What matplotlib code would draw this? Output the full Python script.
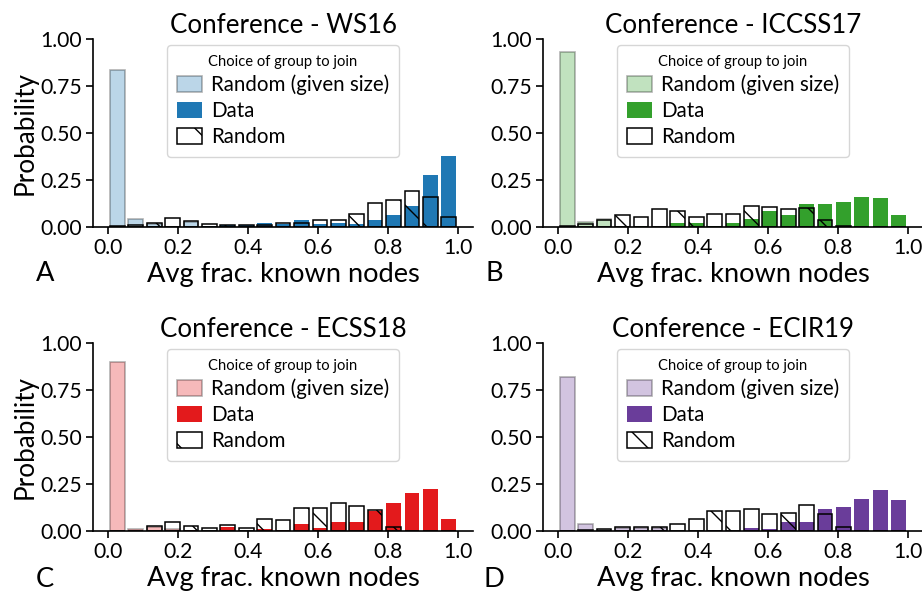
import numpy as np
import matplotlib.pyplot as plt

plt.rcParams['font.family'] = ['Lato', 'DejaVu Sans']
plt.rcParams['hatch.linewidth'] = 0.5

# 19 bins between 0 and 1
edges = np.linspace(0, 1, 20)

conferences = ['WS16', 'ICCSS17', 'ECSS18', 'ECIR19']
colors = ['#1f78b4', '#33a02c', '#e31a1c', '#6a3d9a']
letters = ['A', 'B', 'C', 'D']

rand_size_ws16 = [0.835, 0.044, 0.015, 0, 0.025, 0, 0, 0, 0, 0, 0, 0, 0, 0, 0, 0, 0, 0, 0]
data_ws16 = [0, 0, 0.005, 0, 0, 0.005, 0.012, 0.010, 0.020, 0.018, 0.035, 0.014, 0.021,
             0.014, 0.035, 0.062, 0.110, 0.275, 0.376]
rand_ws16 = [0.003, 0.008, 0.020, 0.050, 0.030, 0.014, 0.012, 0.012, 0.009, 0.021, 0.021,
             0.035, 0.035, 0.071, 0.126, 0.144, 0.190, 0.160, 0.055]

rand_size_iccss17 = [0.93, 0.028, 0.040, 0, 0, 0, 0, 0, 0, 0, 0, 0, 0, 0, 0, 0, 0, 0, 0]
data_iccss17 = [0, 0, 0, 0, 0.007, 0, 0.020, 0.020, 0.007, 0.020, 0.041, 0.085, 0.062,
                0.120, 0.120, 0.131, 0.158, 0.152, 0.062]
rand_iccss17 = [0.005, 0.017, 0.038, 0.064, 0.053, 0.095, 0.085, 0.055, 0.066, 0.071, 0.112,
                0.108, 0.096, 0.101, 0.039, 0.005, 0, 0, 0]

rand_size_ecss18 = [0.90, 0.012, 0.020, 0.010, 0, 0, 0, 0, 0, 0, 0, 0, 0, 0, 0, 0, 0, 0, 0]
data_ecss18 = [0, 0, 0, 0, 0.008, 0, 0.021, 0, 0.009, 0.004, 0.039, 0.018, 0.046,
               0.046, 0.106, 0.151, 0.204, 0.225, 0.066]
rand_ecss18 = [0, 0, 0.025, 0.050, 0.026, 0.018, 0.033, 0.018, 0.066, 0.060, 0.124,
               0.124, 0.147, 0.131, 0.110, 0.023, 0, 0, 0]

rand_size_ecir19 = [0.82, 0.039, 0.005, 0.018, 0.018, 0.018, 0, 0, 0, 0, 0, 0, 0, 0, 0, 0, 0, 0, 0]
data_ecir19 = [0, 0, 0, 0, 0, 0, 0, 0, 0.003, 0, 0.018, 0.009, 0.046, 0.046, 0.119,
               0.130, 0.172, 0.220, 0.167]
rand_ecir19 = [0, 0.004, 0.011, 0.021, 0.023, 0.023, 0.040, 0.064, 0.105, 0.106, 0.119,
               0.089, 0.096, 0.140, 0.092, 0.021, 0, 0.002, 0.002]

rand_size_all = [rand_size_ws16, rand_size_iccss17, rand_size_ecss18, rand_size_ecir19]
data_all = [data_ws16, data_iccss17, data_ecss18, data_ecir19]
rand_all = [rand_ws16, rand_iccss17, rand_ecss18, rand_ecir19]

fig = plt.figure(figsize=(4.61, 2.97), dpi=200)
positions = [[0.101, 0.618, 0.412, 0.3165], [0.589, 0.618, 0.412, 0.3165],
             [0.101, 0.106, 0.412, 0.3165], [0.589, 0.106, 0.412, 0.3165]]

centers = (edges[:-1] + edges[1:]) / 2
width = 0.8 * (edges[1] - edges[0])

for i, conf in enumerate(conferences):
    ax = fig.add_axes(positions[i])
    c = colors[i]
    ax.bar(centers, rand_size_all[i], width=width, color=c, edgecolor='k',
           alpha=0.3, linewidth=0.6, label='Random (given size)')
    ax.bar(centers, data_all[i], width=width, color=c, linewidth=0, label='Data')
    ax.bar(centers, rand_all[i], width=width, fill=False, edgecolor='k',
           hatch='\\', linewidth=0.55, label='Random')

    ax.set_xlim(-0.043, 1.043)
    ax.set_ylim(0, 1)
    ax.set_xticks([0, 0.2, 0.4, 0.6, 0.8, 1.0])
    ax.set_xticklabels(['0.0', '0.2', '0.4', '0.6', '0.8', '1.0'])
    ax.set_yticks([0, 0.25, 0.5, 0.75, 1.0])
    ax.set_yticklabels(['0.00', '0.25', '0.50', '0.75', '1.00'])
    ax.tick_params(labelsize=7.6, width=0.6, length=2.5, pad=1.5)
    for s in ['top', 'right']:
        ax.spines[s].set_visible(False)
    for s in ['left', 'bottom']:
        ax.spines[s].set_linewidth(0.6)

    ax.set_title('Conference - ' + conf, fontsize=9.3, pad=2)
    ax.set_xlabel('Avg frac. known nodes', fontsize=9.8, labelpad=1.5)
    if i % 2 == 0:
        ax.set_ylabel('Probability', fontsize=9.4, labelpad=1)

    leg = ax.legend(loc='upper center', bbox_to_anchor=(0.5, 0.98), fontsize=7.4,
                    title='Choice of group to join', title_fontsize=5.3,
                    handlelength=1.2, handleheight=0.8, handletextpad=0.45,
                    labelspacing=0.28, borderpad=0.5, borderaxespad=0.1)
    leg.get_frame().set_linewidth(0.5)

    x0 = 0.049 if i % 2 == 0 else 0.536
    y0 = 0.54 if i < 2 else 0.024
    fig.text(x0, y0, letters[i], fontsize=9.8, ha='center', va='center')

fig.savefig('out.png', dpi=200)
